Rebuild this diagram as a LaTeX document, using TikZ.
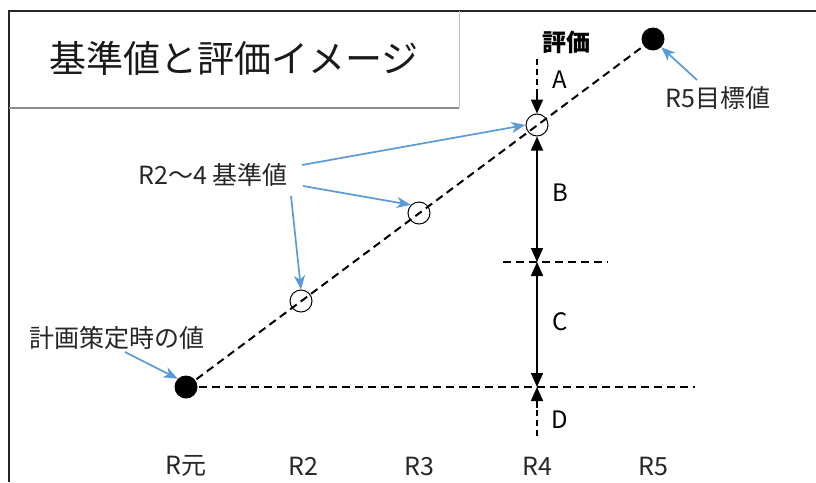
\documentclass[tikz,border=0pt]{standalone}
\usepackage{fontspec}
\setmainfont{Noto Sans CJK JP}
\usetikzlibrary{arrows.meta}
\definecolor{callout}{HTML}{5B9BD5}
\tikzset{
  dimtip/.tip={Triangle[length=14pt,width=12pt]},
  dot/.style={circle,fill=black,minimum size=23pt,inner sep=0pt},
  ring/.style={circle,draw=black,line width=1pt,minimum size=22pt,inner sep=0pt},
  dline/.style={line width=2pt,dash pattern=on 8pt off 5pt},
  vdline/.style={line width=1.7pt,dash pattern=on 6pt off 4pt},
  dimarrow/.style={line width=1.7pt},
  blue/.style={draw=callout,line width=1.7pt,-{Stealth[length=14pt,width=11pt,inset=4pt]}},
  lbl/.style={font=\fontsize{25pt}{28pt}\selectfont,text=black!85,inner sep=0pt},
  letter/.style={font=\fontsize{24pt}{28pt}\selectfont,inner sep=0pt}
}
\begin{document}
\begin{tikzpicture}[x=1pt,y=-1pt]
\useasboundingbox (0,0) rectangle (816,482);
\fill[white] (0,0) rectangle (816,482);
% outer frame
\draw[line width=2pt,black!85] (9,482) -- (9,11) -- (816,11);
% title box
\draw[line width=1pt,black!25] (459,11) -- (459,108);
\draw[line width=2pt,black!45] (9,108) -- (459,108);
\node[font=\fontsize{37pt}{40pt}\selectfont,text=black!90,inner sep=0pt] (title) at (234,58) {基準値と評価イメージ};
% main points
\coordinate (p0) at (186,387);
\coordinate (p5) at (653,39);
\draw[dline] (p0) -- (p5);
\draw[dline] (p0) -- (695,387) coordinate (hend);
\draw[dline] (503,262) coordinate (hstart) -- (608,262) coordinate (hend2);
\node[ring] (c2) at (301,301) {};
\node[ring] (c3) at (419,213) {};
\node[ring] (c4) at (537,125) {};
\node[dot] (d0) at (p0) {};
\node[dot] (d5) at (p5) {};
% vertical dimension arrows
\coordinate (a0) at (537,59);
\coordinate (a1) at (537,92);
\coordinate (m1) at (537,262);
\coordinate (m0) at (537,387);
\coordinate (e1) at (537,408);
\coordinate (e0) at (537,436);
\draw[vdline] (a0) -- (a1);
\draw[dimarrow,-{dimtip}] (a1) -- (c4.north);
\draw[dimarrow,{dimtip}-{dimtip}] (c4.south) -- (m1);
\draw[dimarrow,{dimtip}-{dimtip}] (m1) -- (m0);
\draw[vdline] (e0) -- (e1);
\draw[dimarrow,-{dimtip}] (e1) -- (m0);
% labels
\node[font=\bfseries\fontsize{24pt}{28pt}\selectfont,inner sep=0pt] (hyoka) at (566,42) {評価};
\node[letter] (la) at (560,80) {A};
\node[letter] (lb) at (560,193) {B};
\node[letter] (lc) at (560,322) {C};
\node[letter] (ld) at (560,420) {D};
% callouts
\node[lbl] (t5) at (718,98) {R5目標値};
\draw[blue] (697,80) coordinate (t5s) -- (d5.south east);
\node[lbl] (tk) at (213,175) {R2〜4 基準値};
\draw[blue] (302,165) coordinate (k1) -- (c4.west);
\draw[blue] (303,186) coordinate (k2) -- (c3.north west);
\draw[blue] (291,196) coordinate (k3) -- (c2.north);
\node[lbl] (t0) at (117,338) {計画策定時の値};
\draw[blue] (125,352) coordinate (s0) -- (d0.north west);
% axis labels
\node[lbl] (x0) at (186,466) {R元};
\node[lbl] (x2) at (303,466) {R2};
\node[lbl] (x3) at (419,466) {R3};
\node[lbl] (x4) at (537,466) {R4};
\node[lbl] (x5) at (653,466) {R5};
\end{tikzpicture}
\end{document}
